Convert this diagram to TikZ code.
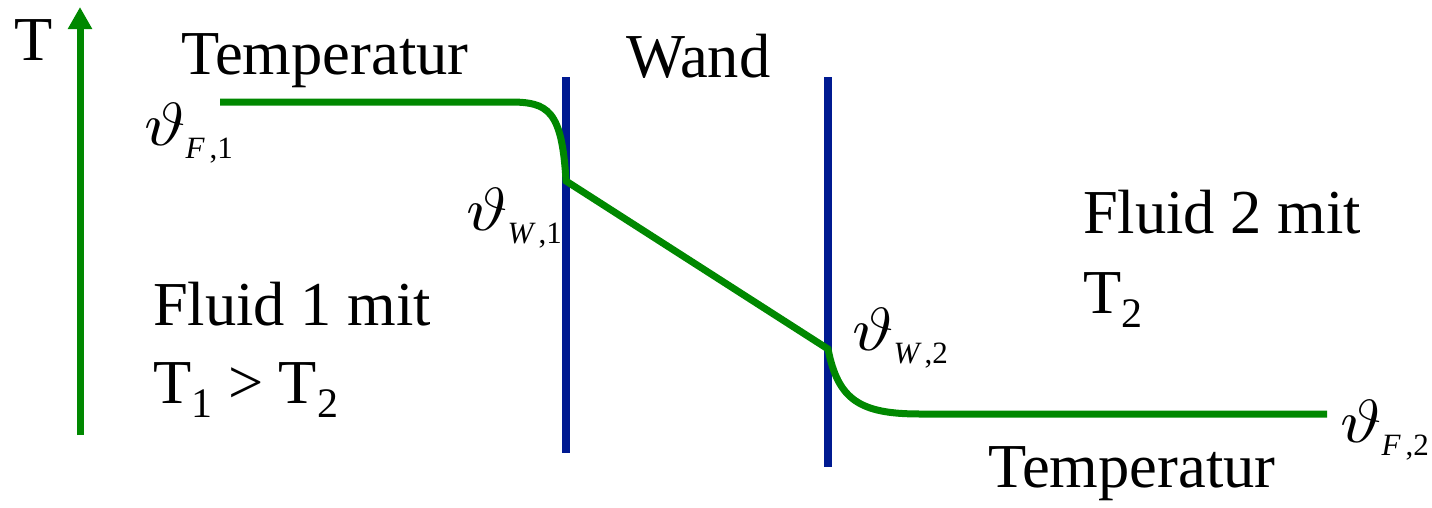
\documentclass[tikz,border=0pt]{standalone}
\usepackage{graphicx}
\usepackage{fontspec}
\setmainfont{Liberation Serif}
\usetikzlibrary{arrows.meta}
\definecolor{cgreen}{RGB}{0,136,0}
\definecolor{cblue}{RGB}{0,26,145}
\newcommand{\bigf}{\fontsize{62.5}{70}\selectfont}
\newcommand{\subf}{\fontsize{42}{42}\selectfont}
\newcommand{\vsubf}{\fontsize{31}{31}\selectfont}
\newcommand{\vth}[2]{\scalebox{7}[6.1]{\fontsize{10}{12}\selectfont$\vartheta$}\raisebox{-13pt}{\vsubf\itshape #1\,\upshape,#2}}
\newcommand{\Tsub}[1]{T\raisebox{-14pt}{\subf #1}}
\begin{document}
\begin{tikzpicture}[x=1pt,y=-1pt,
  txt/.style={inner sep=0pt, anchor=base west, font=\bigf},
  curve/.style={draw=cgreen, line width=7pt},
  wall/.style={draw=cblue, line width=7.5pt}]
\useasboundingbox (0,0) rectangle (1432,507);
% axis
\coordinate (ab) at (80,435);
\coordinate (at) at (80,7);
\draw[cgreen, line width=7pt, -{Triangle[width=23pt,length=22pt]}] (ab) -- (at);
% walls
\coordinate (w1t) at (566,77);
\coordinate (w1b) at (566,453);
\coordinate (w2t) at (828,77);
\coordinate (w2b) at (828,467);
\draw[wall] (w1t) -- (w1b);
\draw[wall] (w2t) -- (w2b);
% temperature profile
\coordinate (p0) at (220,102);
\coordinate (p1) at (510,102);
\coordinate (p2) at (566,181);
\coordinate (p3) at (828,349);
\coordinate (p4) at (920,414);
\coordinate (p5) at (1327,414);
\draw[curve] (p0) -- (p1) .. controls (548,102) and (562,110) .. (p2) -- (p3)
  .. controls (838,400) and (860,414) .. (p4) -- (p5);
% texts
\node[txt] (T) at (14,60) {T};
\node[txt] (temp1) at (181,74) {Temperatur};
\node[txt] (wand) at (626,77) {Wand};
\node[txt] (fl1) at (153,325) {Fluid 1 mit};
\node[txt] (fl1b) at (153,403) {\Tsub{1} > \Tsub{2}};
\node[txt] (fl2) at (1083,233) {Fluid 2 mit};
\node[txt] (fl2b) at (1083,313) {\Tsub{2}};
\node[txt] (temp2) at (988,487) {Temperatur};
\node[txt] (vf1) at (144,145) {\vth{F}{1}};
\node[txt] (vw1) at (466,230) {\vth{W}{1}};
\node[txt] (vw2) at (852,350) {\vth{W}{2}};
\node[txt] (vf2) at (1340,442) {\vth{F}{2}};
\end{tikzpicture}
\end{document}
